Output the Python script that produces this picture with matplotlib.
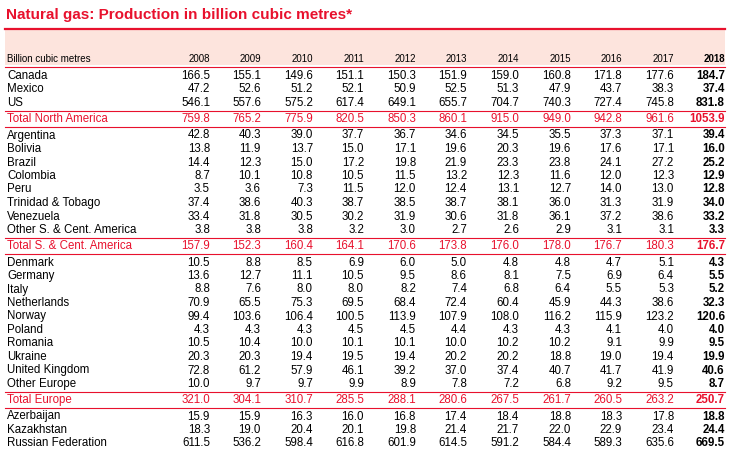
import matplotlib.pyplot as plt
from matplotlib.patches import Rectangle

years = ['2008', '2009', '2010', '2011', '2012', '2013', '2014', '2015', '2016', '2017', '2018']

rows = [
    ('Canada', [166.5, 155.1, 149.6, 151.1, 150.3, 151.9, 159.0, 160.8, 171.8, 177.6, 184.7]),
    ('Mexico', [47.2, 52.6, 51.2, 52.1, 50.9, 52.5, 51.3, 47.9, 43.7, 38.3, 37.4]),
    ('US', [546.1, 557.6, 575.2, 617.4, 649.1, 655.7, 704.7, 740.3, 727.4, 745.8, 831.8]),
    ('Total North America', [759.8, 765.2, 775.9, 820.5, 850.3, 860.1, 915.0, 949.0, 942.8, 961.6, 1053.9]),
    ('Argentina', [42.8, 40.3, 39.0, 37.7, 36.7, 34.6, 34.5, 35.5, 37.3, 37.1, 39.4]),
    ('Bolivia', [13.8, 11.9, 13.7, 15.0, 17.1, 19.6, 20.3, 19.6, 17.6, 17.1, 16.0]),
    ('Brazil', [14.4, 12.3, 15.0, 17.2, 19.8, 21.9, 23.3, 23.8, 24.1, 27.2, 25.2]),
    ('Colombia', [8.7, 10.1, 10.8, 10.5, 11.5, 13.2, 12.3, 11.6, 12.0, 12.3, 12.9]),
    ('Peru', [3.5, 3.6, 7.3, 11.5, 12.0, 12.4, 13.1, 12.7, 14.0, 13.0, 12.8]),
    ('Trinidad & Tobago', [37.4, 38.6, 40.3, 38.7, 38.5, 38.7, 38.1, 36.0, 31.3, 31.9, 34.0]),
    ('Venezuela', [33.4, 31.8, 30.5, 30.2, 31.9, 30.6, 31.8, 36.1, 37.2, 38.6, 33.2]),
    ('Other S. & Cent. America', [3.8, 3.8, 3.8, 3.2, 3.0, 2.7, 2.6, 2.9, 3.1, 3.1, 3.3]),
    ('Total S. & Cent. America', [157.9, 152.3, 160.4, 164.1, 170.6, 173.8, 176.0, 178.0, 176.7, 180.3, 176.7]),
    ('Denmark', [10.5, 8.8, 8.5, 6.9, 6.0, 5.0, 4.8, 4.8, 4.7, 5.1, 4.3]),
    ('Germany', [13.6, 12.7, 11.1, 10.5, 9.5, 8.6, 8.1, 7.5, 6.9, 6.4, 5.5]),
    ('Italy', [8.8, 7.6, 8.0, 8.0, 8.2, 7.4, 6.8, 6.4, 5.5, 5.3, 5.2]),
    ('Netherlands', [70.9, 65.5, 75.3, 69.5, 68.4, 72.4, 60.4, 45.9, 44.3, 38.6, 32.3]),
    ('Norway', [99.4, 103.6, 106.4, 100.5, 113.9, 107.9, 108.0, 116.2, 115.9, 123.2, 120.6]),
    ('Poland', [4.3, 4.3, 4.3, 4.5, 4.5, 4.4, 4.3, 4.3, 4.1, 4.0, 4.0]),
    ('Romania', [10.5, 10.4, 10.0, 10.1, 10.1, 10.0, 10.2, 10.2, 9.1, 9.9, 9.5]),
    ('Ukraine', [20.3, 20.3, 19.4, 19.5, 19.4, 20.2, 20.2, 18.8, 19.0, 19.4, 19.9]),
    ('United Kingdom', [72.8, 61.2, 57.9, 46.1, 39.2, 37.0, 37.4, 40.7, 41.7, 41.9, 40.6]),
    ('Other Europe', [10.0, 9.7, 9.7, 9.9, 8.9, 7.8, 7.2, 6.8, 9.2, 9.5, 8.7]),
    ('Total Europe', [321.0, 304.1, 310.7, 285.5, 288.1, 280.6, 267.5, 261.7, 260.5, 263.2, 250.7]),
    ('Azerbaijan', [15.9, 15.9, 16.3, 16.0, 16.8, 17.4, 18.4, 18.8, 18.3, 17.8, 18.8]),
    ('Kazakhstan', [18.3, 19.0, 20.4, 20.1, 19.8, 21.4, 21.7, 22.0, 22.9, 23.4, 24.4]),
    ('Russian Federation', [611.5, 536.2, 598.4, 616.8, 601.9, 614.5, 591.2, 584.4, 589.3, 635.6, 669.5]),
]

RED = '#e8112d'
plt.rcParams['font.family'] = ['Liberation Sans Narrow', 'Liberation Sans', 'DejaVu Sans']

W, H = 729, 453
fig = plt.figure(figsize=(W / 100, H / 100), dpi=100)
ax = fig.add_axes([0, 0, 1, 1])
ax.set_xlim(0, W)
ax.set_ylim(H, 0)
ax.axis('off')

ax.text(6, 15, 'Natural gas: Production in billion cubic metres*', color=RED,
        fontsize=11, fontweight='bold', va='center')
ax.add_patch(Rectangle((5, 29), 720, 36, color='#fde4dd', lw=0))
ax.plot([5, 725], [28.5, 28.5], color=RED, lw=1.6)

col_x = [210, 261, 313, 364, 416, 467, 519, 571, 622, 674, 725]
fs = 8.3

ax.text(7, 59, 'Billion cubic metres', fontsize=7, va='center')
for x, yr in zip(col_x, years):
    ax.text(x, 59, yr, fontsize=7, va='center', ha='right',
            fontweight='bold' if yr == '2018' else 'normal')
ax.plot([5, 725], [67, 67], color=RED, lw=0.8)

y = 76
for name, vals in rows:
    total = name.startswith('Total')
    if total:
        y += 2.5
        ax.plot([5, 725], [y - 8, y - 8], color=RED, lw=0.8)
    color = RED if total else 'black'
    ax.text(7, y, name, fontsize=fs, va='center', color=color)
    for x, v in zip(col_x, vals):
        last = x == col_x[-1]
        ax.text(x, y, f'{v:.1f}', fontsize=fs, va='center', ha='right', color=color,
                fontweight='bold' if last else 'normal')
    if total:
        ax.plot([5, 725], [y + 8, y + 8], color=RED, lw=0.8)
        y += 16.5
    else:
        y += 13.5

fig.savefig('out.png', dpi=100)
